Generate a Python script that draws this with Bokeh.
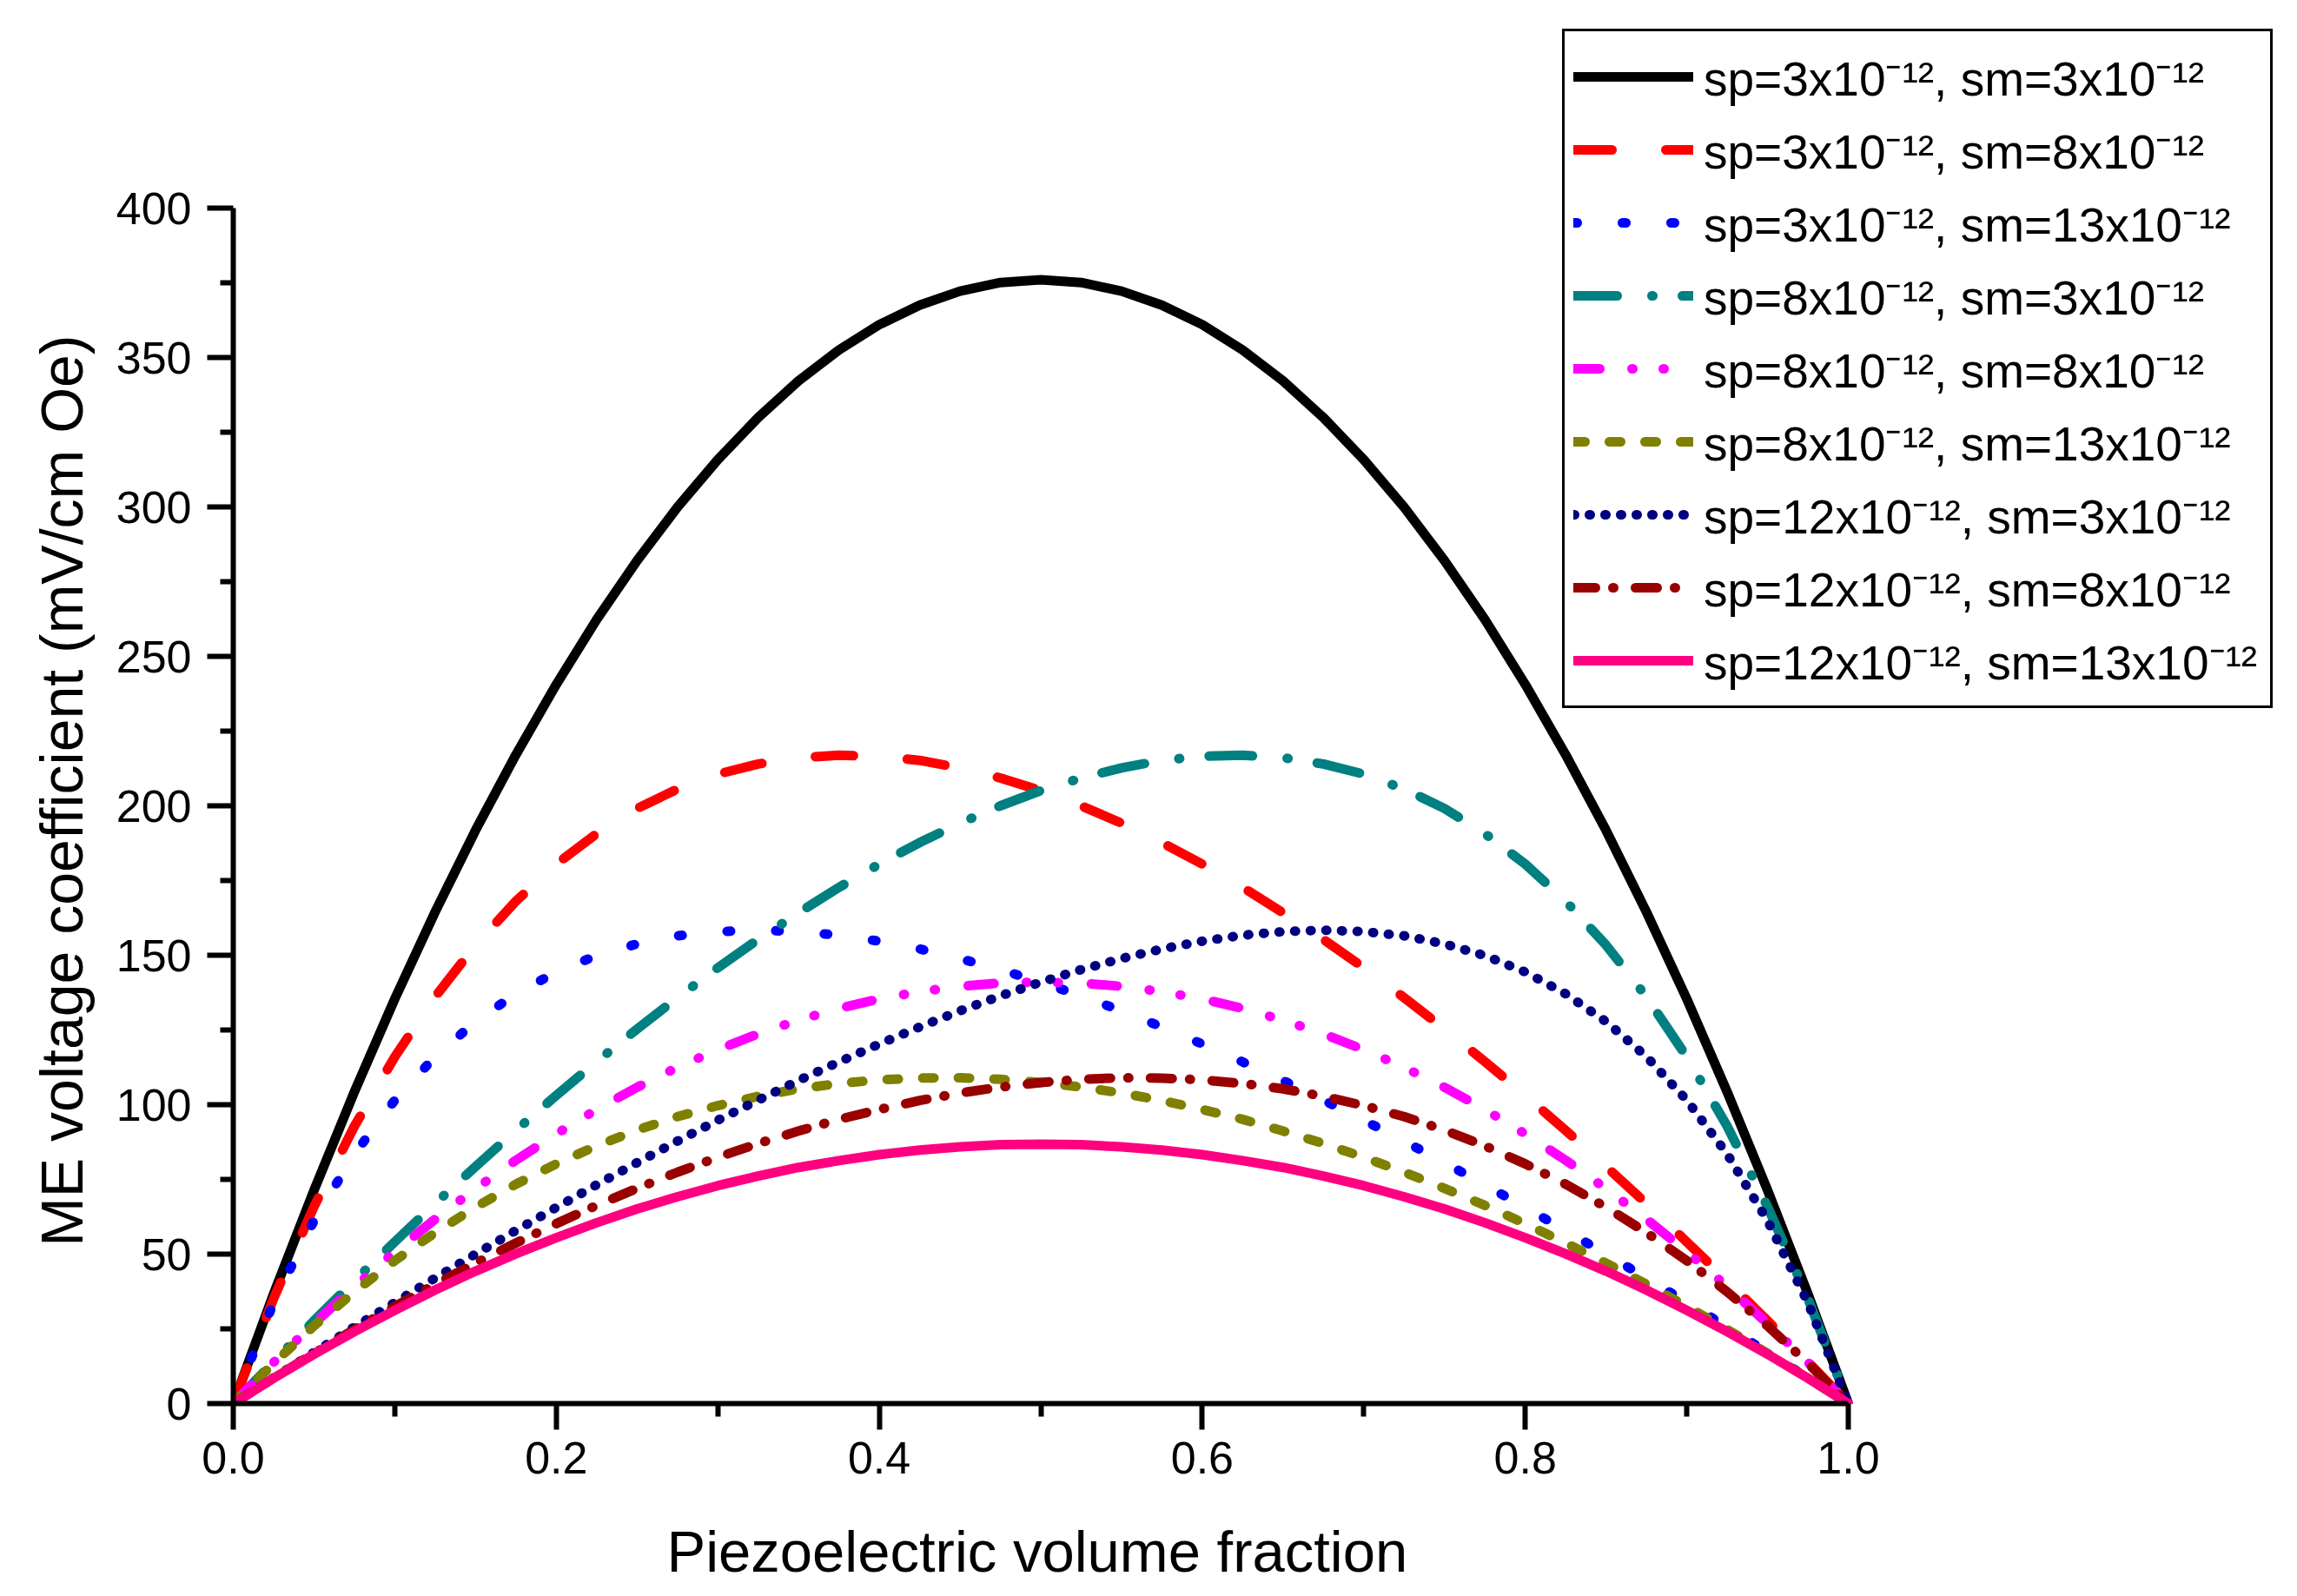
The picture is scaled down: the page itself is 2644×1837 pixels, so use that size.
from bokeh.plotting import figure
from bokeh.models import Range1d, FixedTicker, NumeralTickFormatter, Legend, LegendItem, Title
from bokeh.embed import file_html
from bokeh.resources import INLINE

# Piezoelectric volume fraction
v = [0.0, 0.025, 0.05, 0.075, 0.1, 0.125, 0.15, 0.175, 0.2, 0.225, 0.25, 0.275, 0.3, 0.325, 0.35,
     0.375, 0.4, 0.425, 0.45, 0.475, 0.5, 0.525, 0.55, 0.575, 0.6, 0.625, 0.65, 0.675, 0.7, 0.725,
     0.75, 0.775, 0.8, 0.825, 0.85, 0.875, 0.9, 0.925, 0.95, 0.975, 1.0]

# ME voltage coefficient (mV/cm Oe)
s3_3 = [0, 36.7, 71.4, 104.3, 135.4, 164.5, 191.8, 217.1, 240.6, 262.3, 282.0, 299.9, 315.8, 329.9, 342.2,
        352.5, 361.0, 367.5, 372.2, 375.1, 376.0, 375.1, 372.2, 367.5, 361.0, 352.5, 342.2, 329.9, 315.8, 299.9,
        282.0, 262.3, 240.6, 217.1, 191.8, 164.5, 135.4, 104.3, 71.4, 36.7, 0]
s3_8 = [0, 35.2, 65.9, 92.8, 116.0, 136.1, 153.4, 168.1, 180.5, 190.7, 199.1, 205.6, 210.6, 214.0, 216.1,
        216.9, 216.6, 215.2, 212.7, 209.3, 205.1, 200.0, 194.2, 187.7, 180.5, 172.7, 164.2, 155.3, 145.8, 135.8,
        125.3, 114.4, 103.1, 91.4, 79.3, 66.9, 54.1, 41.1, 27.7, 14.0, 0]
s3_13 = [0, 33.8, 61.2, 83.5, 101.5, 116.1, 127.8, 137.1, 144.4, 149.9, 153.8, 156.5, 157.9, 158.4, 157.9,
         156.7, 154.7, 152.1, 148.9, 145.2, 141.0, 136.4, 131.4, 126.0, 120.3, 114.3, 108.1, 101.5, 94.8, 87.8,
         80.6, 73.2, 65.6, 57.9, 50.0, 42.0, 33.8, 25.6, 17.1, 8.6, 0]
s8_3 = [0, 14.0, 27.7, 41.1, 54.1, 66.9, 79.3, 91.4, 103.1, 114.4, 125.3, 135.8, 145.8, 155.3, 164.2,
        172.7, 180.5, 187.7, 194.2, 200.0, 205.1, 209.3, 212.7, 215.2, 216.6, 216.9, 216.1, 214.0, 210.6, 205.6,
        199.1, 190.7, 180.5, 168.1, 153.4, 136.1, 116.0, 92.8, 65.9, 35.2, 0]
s8_8 = [0, 13.8, 26.8, 39.1, 50.8, 61.7, 71.9, 81.4, 90.2, 98.4, 105.8, 112.5, 118.4, 123.7, 128.3,
        132.2, 135.4, 137.8, 139.6, 140.7, 141.0, 140.7, 139.6, 137.8, 135.4, 132.2, 128.3, 123.7, 118.4, 112.5,
        105.8, 98.4, 90.2, 81.4, 71.9, 61.7, 50.8, 39.1, 26.8, 13.8, 0]
s8_13 = [0, 13.5, 26.0, 37.4, 47.8, 57.2, 65.7, 73.4, 80.2, 86.2, 91.5, 96.0, 99.7, 102.8, 105.3,
         107.1, 108.3, 108.9, 109.0, 108.5, 107.4, 105.9, 103.9, 101.4, 98.4, 95.1, 91.2, 87.0, 82.4, 77.4,
         72.0, 66.3, 60.2, 53.7, 47.0, 39.9, 32.5, 24.8, 16.8, 8.5, 0]
s12_3 = [0, 8.6, 17.1, 25.6, 33.8, 42.0, 50.0, 57.9, 65.6, 73.2, 80.6, 87.8, 94.8, 101.5, 108.1,
         114.3, 120.3, 126.0, 131.4, 136.4, 141.0, 145.2, 148.9, 152.1, 154.7, 156.7, 157.9, 158.4, 157.9, 156.5,
         153.8, 149.9, 144.4, 137.1, 127.8, 116.1, 101.5, 83.5, 61.2, 33.8, 0]
s12_8 = [0, 8.5, 16.8, 24.8, 32.5, 39.9, 47.0, 53.7, 60.2, 66.3, 72.0, 77.4, 82.4, 87.0, 91.2,
         95.1, 98.4, 101.4, 103.9, 105.9, 107.4, 108.5, 109.0, 108.9, 108.3, 107.1, 105.3, 102.8, 99.7, 96.0,
         91.5, 86.2, 80.2, 73.4, 65.7, 57.2, 47.8, 37.4, 26.0, 13.5, 0]
s12_13 = [0, 8.5, 16.5, 24.1, 31.2, 38.0, 44.3, 50.1, 55.5, 60.5, 65.1, 69.2, 72.9, 76.1, 79.0,
          81.3, 83.3, 84.8, 85.9, 86.6, 86.8, 86.6, 85.9, 84.8, 83.3, 81.3, 79.0, 76.1, 72.9, 69.2,
          65.1, 60.5, 55.5, 50.1, 44.3, 38.0, 31.2, 24.1, 16.5, 8.5, 0]

labels = [
    "sp=3x10\u207b\u00b9\u00b2, sm=3x10\u207b\u00b9\u00b2",
    "sp=3x10\u207b\u00b9\u00b2, sm=8x10\u207b\u00b9\u00b2",
    "sp=3x10\u207b\u00b9\u00b2, sm=13x10\u207b\u00b9\u00b2",
    "sp=8x10\u207b\u00b9\u00b2, sm=3x10\u207b\u00b9\u00b2",
    "sp=8x10\u207b\u00b9\u00b2, sm=8x10\u207b\u00b9\u00b2",
    "sp=8x10\u207b\u00b9\u00b2, sm=13x10\u207b\u00b9\u00b2",
    "sp=12x10\u207b\u00b9\u00b2, sm=3x10\u207b\u00b9\u00b2",
    "sp=12x10\u207b\u00b9\u00b2, sm=8x10\u207b\u00b9\u00b2",
    "sp=12x10\u207b\u00b9\u00b2, sm=13x10\u207b\u00b9\u00b2",
]
series = [s3_3, s3_8, s3_13, s8_3, s8_8, s8_13, s12_3, s12_8, s12_13]
colors = ["#000000", "#FF0000", "#0000FF", "#008080", "#FF00FF", "#808000", "#000080", "#990000", "#FF0080"]
dashes = ["solid", "44 62", "4 52", "50 40 1 34", "30 37 1 35 1 38", "13 28", "1 17", "25 20 1 25", "solid"]

FONT = "Liberation Sans"

# frame: x 0..1 spans 1859 px, y 0..400 spans 1376 px; frame extended right/up to host the legend
p = figure(frame_width=2362, frame_height=1590, output_backend="svg", toolbar_location=None,
           x_range=Range1d(0, 2362 / 1859), y_range=Range1d(0, 400 + 214 / 3.44),
           min_border_left=268, min_border_right=10, min_border_top=25, min_border_bottom=219,
           background_fill_color="white", border_fill_color="white")
p.outline_line_color = None
p.xgrid.visible = False
p.ygrid.visible = False

items = []
for ys, lab, col, dsh in zip(series, labels, colors, dashes):
    r = p.line(v, ys, line_color=col, line_width=11, line_dash=dsh,
               line_cap="round", line_join="round")
    items.append(LegendItem(label=lab, renderers=[r]))

p.xaxis.ticker = FixedTicker(ticks=[0, 0.2, 0.4, 0.6, 0.8, 1.0], minor_ticks=[0.1, 0.3, 0.5, 0.7, 0.9])
p.yaxis.ticker = FixedTicker(ticks=list(range(0, 401, 50)), minor_ticks=list(range(25, 400, 50)))
p.xaxis.bounds = (0, 1)
p.yaxis.bounds = (0, 400)
p.xaxis.formatter = NumeralTickFormatter(format="0.0")

for ax in p.axis:
    ax.axis_line_width = 6
    ax.axis_line_color = "black"
    ax.major_tick_line_width = 6
    ax.minor_tick_line_width = 6
    ax.major_tick_line_color = "black"
    ax.minor_tick_line_color = "black"
    ax.major_tick_out = 30
    ax.major_tick_in = 0
    ax.minor_tick_out = 15
    ax.minor_tick_in = 0
    ax.major_label_text_font = FONT
    ax.major_label_text_font_size = "52px"
    ax.major_label_text_color = "black"

p.xaxis.major_label_standoff = 14
p.yaxis.major_label_standoff = 18
# blank spacer label to push the x title further from the tick labels
p.xaxis.axis_label = "\u00a0"
p.xaxis.axis_label_text_font_size = "20px"
p.xaxis.axis_label_standoff = 12

# axis titles centred on the axis extents (the frame itself is wider/taller)
xtitle = Title(text="Piezoelectric volume fraction", align="left", offset=499,
               text_font=FONT, text_font_size="67px", text_font_style="normal",
               text_color="black", standoff=20)
ytitle = Title(text="ME voltage coefficient (mV/cm Oe)", align="right", offset=360,
               text_font=FONT, text_font_size="68px", text_font_style="normal",
               text_color="black", standoff=44)
p.add_layout(xtitle, "below")
p.add_layout(ytitle, "left")

legend = Legend(items=items, location=(1530, 800))
legend.border_line_color = "black"
legend.border_line_alpha = 1.0
legend.border_line_width = 3
legend.background_fill_color = "white"
legend.background_fill_alpha = 1.0
legend.label_text_font = FONT
legend.label_text_font_size = "55px"
legend.label_text_color = "black"
legend.glyph_width = 138
legend.glyph_height = 84
legend.label_height = 84
legend.label_width = 642
legend.label_standoff = 12
legend.padding = 10
legend.spacing = 0
legend.margin = 0
p.add_layout(legend, "center")

open("out.html", "w").write(file_html(p, INLINE))
